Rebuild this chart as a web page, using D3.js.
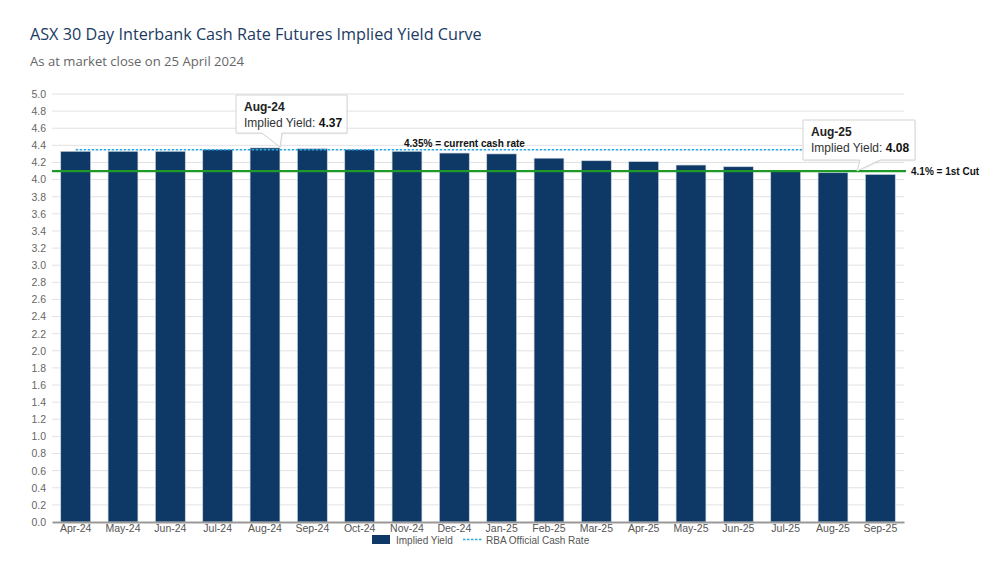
<!DOCTYPE html>
<html><head><meta charset="utf-8">
<script src="https://cdn.jsdelivr.net/npm/d3@7"></script>
<style>body{margin:0;background:#fff;} svg{display:block;}</style>
</head><body>
<svg id="c" width="1000" height="562"></svg>
<script>
const categories = ["Apr-24","May-24","Jun-24","Jul-24","Aug-24","Sep-24","Oct-24","Nov-24","Dec-24","Jan-25","Feb-25","Mar-25","Apr-25","May-25","Jun-25","Jul-25","Aug-25","Sep-25"];
const impliedYield = [4.33,4.33,4.33,4.35,4.37,4.36,4.35,4.33,4.31,4.30,4.25,4.22,4.21,4.17,4.15,4.10,4.08,4.06];
const cashRate = 4.35;
const firstCut = 4.1;
const yTicks = d3.range(0, 5.01, 0.2).map(v => +v.toFixed(1));
const tooltips = [{cat:"Aug-24", value:4.37}, {cat:"Aug-25", value:4.08}];

const svg = d3.select("#c");
const m = {left:52, right:904, top:94, bottom:522};
const x = d3.scaleBand().domain(categories).range([m.left, m.right]).paddingInner(0.37).paddingOuter(0.185);
const y = d3.scaleLinear().domain([0,5]).range([m.bottom, m.top]);

svg.append("text").attr("x",30).attr("y",40).attr("font-family","Open Sans").attr("font-size",16.2).attr("fill","#1b3a63").text("ASX 30 Day Interbank Cash Rate Futures Implied Yield Curve");
svg.append("text").attr("x",30).attr("y",66).attr("font-family","Open Sans").attr("font-size",13.1).attr("fill","#666").text("As at market close on 25 April 2024");

// grid
svg.append("g").selectAll("line").data(yTicks.filter(d=>d>0)).join("line")
  .attr("x1",m.left).attr("x2",m.right).attr("y1",d=>y(d)).attr("y2",d=>y(d))
  .attr("stroke","#e2e2e2").attr("stroke-width",1);

// y axis
const ya = svg.append("g").attr("transform",`translate(${m.left},0)`)
  .call(d3.axisLeft(y).tickValues(yTicks).tickFormat(d3.format(".1f")).tickSize(0).tickPadding(6));
ya.select(".domain").remove();
ya.selectAll("text").attr("font-family","Liberation Sans, Arial").attr("font-size",10.5).attr("fill","#666");

// bars
svg.append("g").selectAll("rect").data(categories).join("rect")
  .attr("x",d=>x(d)).attr("width",x.bandwidth())
  .attr("y",(d,i)=>y(impliedYield[i])).attr("height",(d,i)=>y(0)-y(impliedYield[i]))
  .attr("fill","#0e3866").attr("stroke","#c8d2dc").attr("stroke-width",0.6);

// x axis
const xa = svg.append("g").attr("transform",`translate(0,${m.bottom})`)
  .call(d3.axisBottom(x).tickSize(0).tickPadding(3));
xa.select(".domain").attr("stroke","#999").attr("stroke-width",2);
xa.selectAll("text").attr("font-family","Liberation Sans, Arial").attr("font-size",10.5).attr("fill","#555");

// cash rate dashed line
svg.append("line").attr("x1",x(categories[0])+x.bandwidth()/2).attr("x2",m.right)
  .attr("y1",y(cashRate)).attr("y2",y(cashRate))
  .attr("stroke","#2aa7e0").attr("stroke-width",1.5).attr("stroke-dasharray","2.5,1.5");
svg.append("text").attr("x",404).attr("y",y(cashRate)-3).attr("font-family","Liberation Sans, Arial").attr("font-weight","bold").attr("font-size",10).attr("fill","#111").text("4.35% = current cash rate");

// first cut line
svg.append("line").attr("x1",m.left).attr("x2",m.right+2).attr("y1",y(firstCut)).attr("y2",y(firstCut))
  .attr("stroke","#1f9a2a").attr("stroke-width",2.2);
svg.append("text").attr("x",911).attr("y",y(firstCut)+4).attr("font-family","Liberation Sans, Arial").attr("font-weight","bold").attr("font-size",10).attr("fill","#111").text("4.1% = 1st Cut");

// tooltips
const tipBoxes = [{bx:236, by:95, w:111, h:38, px:[262,282], tx:280, ty:147},{bx:803, by:120, w:112, h:40, px:[860,880], tx:857, ty:171}];
tooltips.forEach((t,i)=>{
  const b = tipBoxes[i];
  const g = svg.append("g");
  const path = `M${b.bx},${b.by} H${b.bx+b.w} V${b.by+b.h} H${b.px[1]} L${b.tx},${b.ty} L${b.px[0]},${b.by+b.h} H${b.bx} Z`;
  g.append("path").attr("d",path).attr("fill","rgba(0,0,0,0.06)").attr("transform","translate(1,1.5)");
  g.append("path").attr("d",path).attr("fill","rgba(255,255,255,0.95)").attr("stroke","#d4d4d4").attr("stroke-width",1);
  g.append("text").attr("x",b.bx+8).attr("y",b.by+16).attr("font-family","Liberation Sans, Arial").attr("font-weight","bold").attr("font-size",12).attr("fill","#222").text(t.cat);
  const tt = g.append("text").attr("x",b.bx+8).attr("y",b.by+32).attr("font-family","Liberation Sans, Arial").attr("font-size",12).attr("fill","#333");
  tt.append("tspan").text("Implied Yield: ");
  tt.append("tspan").attr("font-weight","bold").attr("fill","#111").text(d3.format(".2f")(t.value));
});

// legend
const lg = svg.append("g");
lg.append("rect").attr("x",372).attr("y",535).attr("width",18).attr("height",9).attr("fill","#0e3866");
lg.append("text").attr("x",396).attr("y",544).attr("font-family","Liberation Sans, Arial").attr("font-size",10).attr("fill","#555").text("Implied Yield");
lg.append("line").attr("x1",463).attr("x2",482).attr("y1",539.5).attr("y2",539.5).attr("stroke","#2aa7e0").attr("stroke-width",1.5).attr("stroke-dasharray","2.5,1.5");
lg.append("text").attr("x",486).attr("y",544).attr("font-family","Liberation Sans, Arial").attr("font-size",10).attr("fill","#555").text("RBA Official Cash Rate");
</script>
</body></html>
